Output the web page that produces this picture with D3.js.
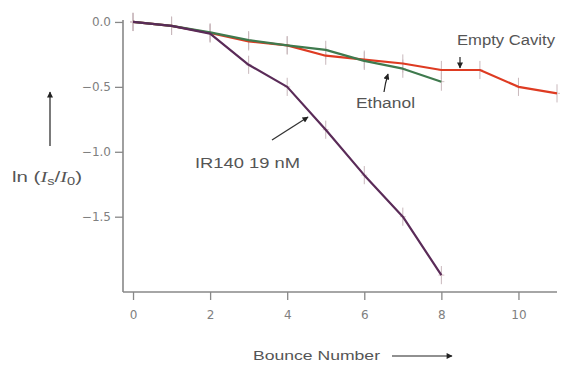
<!DOCTYPE html>
<html><head><meta charset="utf-8">
<script src="https://cdn.jsdelivr.net/npm/d3@7"></script>
<style>body{margin:0;background:#fff}svg{display:block}</style>
</head><body>
<svg id="c" width="562" height="367"></svg>
<script>
const bounce = [0,1,2,3,4,5,6,7,8,9,10,11];
const emptyCavity = [0,-0.03,-0.085,-0.15,-0.18,-0.26,-0.29,-0.32,-0.37,-0.37,-0.50,-0.55];
const ethanol = [0,-0.03,-0.08,-0.14,-0.18,-0.215,-0.30,-0.36,-0.46];
const ir140 = [0,-0.03,-0.09,-0.33,-0.50,-0.83,-1.18,-1.50,-1.95];
const errorBar = 0.07;
const xTicks = [0,2,4,6,8,10];
const yTicks = [0,-0.5,-1.0,-1.5];
const yTickLabels = ["0.0","\u22120.5","\u22121.0","\u22121.5"];

const svg = d3.select("#c");
const x = d3.scaleLinear().domain([-0.26, 11]).range([123, 557]);
const y = d3.scaleLinear().domain([0.015, -2.08]).range([20, 292]);

// axes
const axisColor = "#888";
const gx = svg.append("g").attr("transform","translate(0,292)")
  .call(d3.axisBottom(x).tickValues(xTicks).tickSize(8).tickPadding(10).tickFormat(d3.format("d")));
const gy = svg.append("g").attr("transform","translate(123,0)")
  .call(d3.axisLeft(y).tickValues(yTicks).tickSize(8).tickPadding(4).tickFormat((d,i)=>yTickLabels[i]));
[gx,gy].forEach(g=>{
  g.select(".domain").attr("stroke",axisColor).attr("stroke-width",1.6);
  g.selectAll(".tick line").attr("stroke",axisColor).attr("stroke-width",1.3);
  g.selectAll(".tick text").attr("fill","#808080").attr("font-family","DejaVu Sans").attr("font-size",12);
});
gx.select(".domain").attr("d","M123,0H557");
gy.select(".domain").attr("d","M0,20V292");

const series = [
  {vals: emptyCavity, color:"#de3b22"},
  {vals: ethanol, color:"#3f7a4e"},
  {vals: ir140, color:"#5a2b58"}
];
const line = d3.line().x((d,i)=>x(bounce[i])).y(d=>y(d));
series.forEach(s=>{
  const g = svg.append("g");
  g.selectAll("line.ev").data(s.vals).join("line")
    .attr("x1",(d,i)=>x(bounce[i])).attr("x2",(d,i)=>x(bounce[i]))
    .attr("y1",d=>y(d+errorBar)).attr("y2",d=>y(d-errorBar))
    .attr("stroke","#c9b8bc").attr("stroke-width",1);
  g.selectAll("line.eh").data(s.vals).join("line")
    .attr("x1",(d,i)=>x(bounce[i])-3).attr("x2",(d,i)=>x(bounce[i])+3)
    .attr("y1",d=>y(d)).attr("y2",d=>y(d))
    .attr("stroke","#d8c4c8").attr("stroke-width",1);
});
series.forEach(s=>{
  svg.append("path").datum(s.vals).attr("d",line)
    .attr("fill","none").attr("stroke",s.color).attr("stroke-width",2.2)
    .attr("stroke-linejoin","round");
});

// arrow marker
const defs = svg.append("defs");
defs.append("marker").attr("id","ah").attr("viewBox","0 0 10 10").attr("refX",9).attr("refY",5)
  .attr("markerWidth",8).attr("markerHeight",6).attr("orient","auto-start-reverse")
  .attr("markerUnits","userSpaceOnUse")
  .append("path").attr("d","M0,0L10,5L0,10Z").attr("fill","#222");

const txt = "#555";
function label(t, xx, yy, len, size){
  return svg.append("text").attr("x",xx).attr("y",yy).attr("fill",txt)
    .attr("font-family","Liberation Sans").attr("font-size",size||14)
    .attr("textLength",len).attr("lengthAdjust","spacingAndGlyphs").text(t);
}
label("Empty Cavity", 457, 45, 98);
svg.append("line").attr("x1",460).attr("y1",57).attr("x2",460).attr("y2",68)
  .attr("stroke","#222").attr("stroke-width",1.2).attr("marker-end","url(#ah)");
label("Ethanol", 356, 108, 59);
svg.append("path").attr("d","M384,92 Q385,84 388,74").attr("fill","none")
  .attr("stroke","#222").attr("stroke-width",1.2).attr("marker-end","url(#ah)");
label("IR140 19 nM", 195, 168, 105);
svg.append("line").attr("x1",272).attr("y1",140).attr("x2",308).attr("y2",117)
  .attr("stroke","#333").attr("stroke-width",1.3).attr("marker-end","url(#ah)");

// axis titles
label("Bounce Number", 253, 360, 127, 13);
svg.append("line").attr("x1",392).attr("y1",356).attr("x2",452).attr("y2",356)
  .attr("stroke","#222").attr("stroke-width",1.2).attr("marker-end","url(#ah)");

const yl = svg.append("text").attr("x",12).attr("y",182).attr("fill",txt)
  .attr("font-family","Liberation Sans").attr("font-size",14);
yl.append("tspan").text("ln (");
yl.append("tspan").attr("font-family","Liberation Serif").attr("font-style","italic").text("I");
yl.append("tspan").attr("font-size",10).attr("dy",3).text("s");
yl.append("tspan").attr("dy",-3).text("/");
yl.append("tspan").attr("font-family","Liberation Serif").attr("font-style","italic").text("I");
yl.append("tspan").attr("font-size",10).attr("dy",3).text("0");
yl.append("tspan").attr("dy",-3).text(")");
yl.attr("textLength",70).attr("lengthAdjust","spacingAndGlyphs");
svg.append("line").attr("x1",50).attr("y1",146).attr("x2",50).attr("y2",92)
  .attr("stroke","#222").attr("stroke-width",1.2).attr("marker-end","url(#ah)");
</script>
</body></html>
